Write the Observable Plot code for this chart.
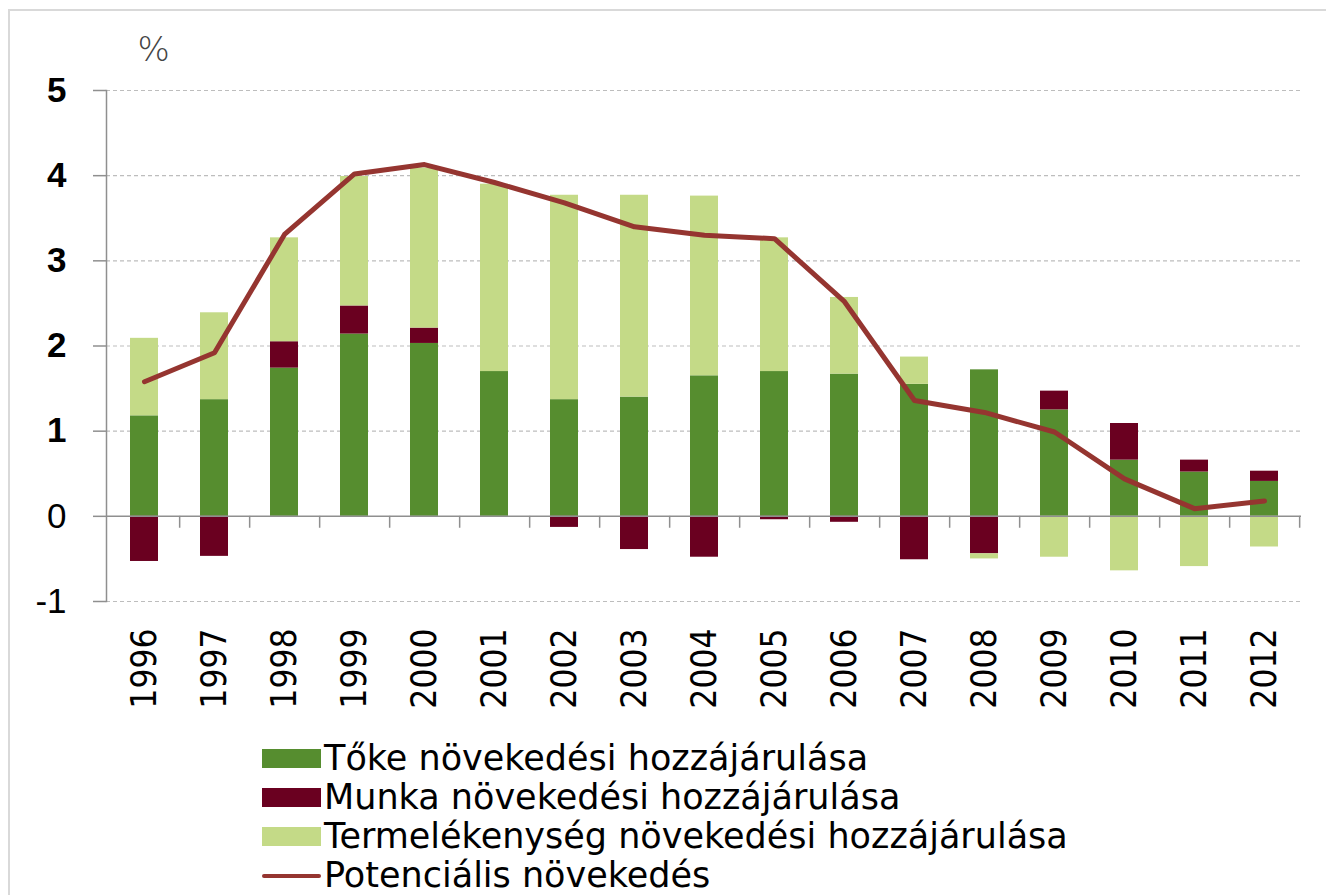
<!DOCTYPE html>
<html>
<head>
<meta charset="utf-8">
<script src="https://cdn.jsdelivr.net/npm/d3@7"></script>
<script src="https://cdn.jsdelivr.net/npm/@observablehq/plot@0.6"></script>
<style>
  html, body { margin: 0; padding: 0; background: #fff; }
  #wrap { position: relative; width: 1326px; height: 895px; overflow: hidden; }
  #border { position: absolute; left: 8px; top: 9px; width: 1330px; height: 900px; border: 2px solid #d9d9d9; box-sizing: border-box; }
  #chart { position: absolute; left: 0; top: 0; }
  #legend { position: absolute; left: 262px; top: 739px; font-family: "DejaVu Sans", sans-serif; font-size: 35px; color: #000; }
  .row { display: flex; align-items: center; height: 39px; white-space: nowrap; }
  .row span { line-height: 1; }
  .sw { width: 59px; height: 19px; margin-right: 3px; flex: none; }
  .ln { width: 59px; height: 4px; margin-right: 3px; border-radius: 2px; flex: none; }
</style>
</head>
<body>
<div id="wrap">
  <div id="border"></div>
  <div id="chart"></div>
  <div id="legend"></div>
</div>
<script>
const years = ["1996","1997","1998","1999","2000","2001","2002","2003","2004","2005","2006","2007","2008","2009","2010","2011","2012"];
const toke  = [1.18, 1.37, 1.74, 2.14, 2.03, 1.70, 1.37, 1.40, 1.65, 1.70, 1.67, 1.55, 1.72, 1.25, 0.66, 0.52, 0.41];
const munka = [-0.53, -0.47, 0.31, 0.33, 0.18, 0.00, -0.13, -0.39, -0.48, -0.04, -0.07, -0.51, -0.44, 0.22, 0.43, 0.14, 0.12];
const termel = [0.91, 1.02, 1.22, 1.52, 1.88, 2.20, 2.40, 2.37, 2.11, 1.57, 0.90, 0.32, -0.06, -0.48, -0.64, -0.59, -0.36];
const potencialis = [1.58, 1.92, 3.31, 4.02, 4.13, 3.92, 3.68, 3.40, 3.30, 3.26, 2.52, 1.36, 1.22, 0.99, 0.44, 0.09, 0.18];
const yTicksBold = [1, 2, 3, 4, 5];
const yTicksRegular = [-1, 0];
const gridTicks = [-1, 1, 2, 3, 4, 5];

const seriesNames = ["Tőke növekedési hozzájárulása", "Munka növekedési hozzájárulása", "Termelékenység növekedési hozzájárulása"];
const seriesColors = ["#568d2f", "#6a0020", "#c4da87"];
const lineName = "Potenciális növekedés";
const lineColor = "#953530";

const bars = [];
years.forEach((y, i) => {
  bars.push({year: y, series: seriesNames[0], value: toke[i]});
  bars.push({year: y, series: seriesNames[1], value: munka[i]});
  bars.push({year: y, series: seriesNames[2], value: termel[i]});
});
const lineData = years.map((y, i) => ({year: y, value: potencialis[i]}));

const W = 1326, H = 720, mL = 106, mR = 25, mT = 90, mB = 119;
const step = (W - mL - mR) / years.length;
const fmt = d => d < 0 ? "-" + Math.abs(d) : String(d);

const chart = Plot.plot({
  width: W, height: H,
  marginLeft: mL, marginRight: mR, marginTop: mT, marginBottom: mB,
  x: {domain: years, paddingInner: 0.6, paddingOuter: 0.3, axis: null},
  y: {domain: [-1, 5], axis: null},
  color: {domain: seriesNames, range: seriesColors},
  marks: [
    Plot.ruleY(gridTicks, {y: d => d, stroke: "#bdbdbd", strokeWidth: 1.2, strokeDasharray: "4,3"}),
    Plot.barY(bars, Plot.stackY({x: "year", y: "value", fill: "series", order: seriesNames})),
    Plot.ruleY([0], {stroke: "#8f8f8f", strokeWidth: 1.5}),
    Plot.ruleX(years, {x: d => d, y1: 0, y2: -0.14, dx: step / 2, stroke: "#8f8f8f", strokeWidth: 1.5}),
    Plot.frame({anchor: "left", stroke: "#8f8f8f", strokeWidth: 1.5}),
    Plot.line(lineData, {x: "year", y: "value", stroke: lineColor, strokeWidth: 5}),
    Plot.axisY({ticks: yTicksBold, tickSize: 13, tickPadding: 27, tickFormat: fmt, stroke: "#8f8f8f", strokeWidth: 1.5,
      fontSize: 35, fontWeight: "bold", fontFamily: "Liberation Sans, sans-serif", fill: "#000", label: null}),
    Plot.axisY({ticks: yTicksRegular, tickSize: 13, tickPadding: 27, tickFormat: fmt, stroke: "#8f8f8f", strokeWidth: 1.5,
      fontSize: 35, fontFamily: "Liberation Sans, sans-serif", fill: "#000", label: null}),
    Plot.axisX({tickSize: 0, tickPadding: 27, tickRotate: -90, fontSize: 35,
      fontFamily: "Liberation Sans Narrow, DejaVu Sans Condensed, sans-serif", fill: "#000", label: null}),
    Plot.text(["%"], {frameAnchor: "top-left", lineAnchor: "middle", dx: 31, dy: -40, fontSize: 34, fontWeight: 300,
      fontFamily: "DejaVu Sans, sans-serif", fill: "#444"})
  ]
});
document.getElementById("chart").appendChild(chart);

const legend = document.getElementById("legend");
seriesNames.forEach((n, i) => {
  const r = document.createElement("div"); r.className = "row";
  const s = document.createElement("div"); s.className = "sw"; s.style.background = seriesColors[i];
  const t = document.createElement("span"); t.textContent = n;
  r.appendChild(s); r.appendChild(t); legend.appendChild(r);
});
{
  const r = document.createElement("div"); r.className = "row";
  const s = document.createElement("div"); s.className = "ln"; s.style.background = lineColor;
  const t = document.createElement("span"); t.textContent = lineName;
  r.appendChild(s); r.appendChild(t); legend.appendChild(r);
}
</script>
</body>
</html>
